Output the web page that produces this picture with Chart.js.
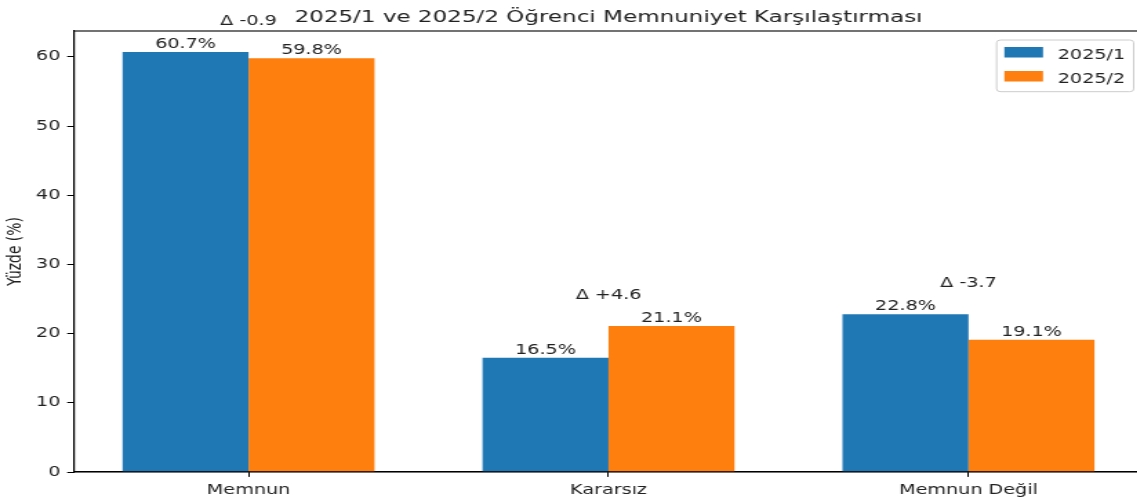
<!DOCTYPE html>
<html>
<head>
<meta charset="utf-8">
<script src="https://cdn.jsdelivr.net/npm/chart.js@4.4.1/dist/chart.umd.min.js"></script>
<style>
  html, body { margin: 0; padding: 0; overflow: hidden; background: #fff; }
  /* the reference is stretched horizontally, so the canvas is too */
  #wrap { width: 835px; height: 501px; transform: scaleX(1.38); transform-origin: 0 0; }
</style>
</head>
<body>
<div id="wrap"><canvas id="chart" width="835" height="501"></canvas></div>
<script>
const categories = ["Memnun", "Kararsız", "Memnun Değil"];
const seriesLabels = ["2025/1", "2025/2"];
const values2025_1 = [60.7, 16.5, 22.8];
const values2025_2 = [59.8, 21.1, 19.1];
const yTicks = [0, 10, 20, 30, 40, 50, 60];
const colors = ["#1f77b4", "#ff7f0e"];
const titleText = "2025/1 ve 2025/2 Öğrenci Memnuniyet Karşılaştırması";
const yTitle = "Yüzde (%)";

const FONT = "'DejaVu Sans', sans-serif";
const TEXT = "#222";
Chart.defaults.font.family = FONT;
Chart.defaults.color = TEXT;

const series = [values2025_1, values2025_2];
const yMax = Math.max(...values2025_1, ...values2025_2) * 1.05;

const annotate = {
  id: "annotate",
  afterDatasetsDraw(chart) {
    const { ctx, chartArea: a, scales: { x, y } } = chart;
    ctx.save();

    // full axes frame
    ctx.strokeStyle = "#000";
    ctx.lineWidth = 1.1;
    ctx.strokeRect(a.left, a.top, a.right - a.left, a.bottom - a.top);

    // value labels
    ctx.fillStyle = TEXT;
    ctx.font = "13.9px " + FONT;
    ctx.textAlign = "center";
    ctx.textBaseline = "alphabetic";
    chart.data.datasets.forEach((ds, di) => {
      chart.getDatasetMeta(di).data.forEach((bar, i) => {
        ctx.fillText(ds.data[i].y.toFixed(1) + "%", bar.x, bar.y - 4);
      });
    });

    // deltas above each group
    categories.forEach((c, i) => {
      const d = values2025_2[i] - values2025_1[i];
      const top = Math.max(values2025_1[i], values2025_2[i]);
      const txt = "Δ " + (d > 0 ? "+" : "") + d.toFixed(1);
      ctx.fillText(txt, x.getPixelForValue(i), y.getPixelForValue(top) - 27);
    });

    // title
    ctx.font = "16.7px " + FONT;
    ctx.fillText(titleText, (a.left + a.right) / 2, 22);

    // legend, upper right
    const lx = 722.2, ly = 40, lw = 99.3, lh = 51.7;
    ctx.beginPath();
    ctx.roundRect(lx, ly, lw, lh, 2.8);
    ctx.fillStyle = "rgba(255,255,255,0.8)";
    ctx.fill();
    ctx.strokeStyle = "#cccccc";
    ctx.lineWidth = 1;
    ctx.stroke();
    ctx.font = "13.9px " + FONT;
    ctx.textAlign = "left";
    chart.data.datasets.forEach((ds, di) => {
      const ry = 47 + di * 24;
      ctx.fillStyle = ds.backgroundColor;
      ctx.fillRect(727.8, ry, 28, 10.5);
      ctx.fillStyle = TEXT;
      ctx.fillText(ds.label, 766.5, ry + 12);
    });

    ctx.restore();
  }
};

new Chart(document.getElementById("chart"), {
  type: "bar",
  data: {
    datasets: seriesLabels.map((label, k) => ({
      label,
      data: series[k].map((v, i) => ({ x: i, y: v })),
      backgroundColor: colors[k],
      borderWidth: 0,
      barPercentage: 1,
      categoryPercentage: 0.7,
    })),
  },
  options: {
    responsive: false,
    animation: false,
    devicePixelRatio: 1,
    layout: { padding: { top: 31, right: 6.7, left: 0, bottom: 0 } },
    plugins: {
      legend: { display: false },
      tooltip: { enabled: false },
      title: { display: false },
    },
    scales: {
      x: {
        type: "linear",
        min: -0.485,
        max: 2.485,
        offset: false,
        afterBuildTicks: (s) => { s.ticks = categories.map((c, i) => ({ value: i })); },
        afterFit: (s) => { s.height = 29; },
        ticks: {
          callback: (v) => categories[v],
          font: { size: 13.9 },
          color: TEXT,
          padding: 5,
          maxRotation: 0,
        },
        grid: { offset: false, drawOnChartArea: false, tickLength: 4.9, color: "#000", lineWidth: 1 },
        border: { display: true, color: "#000", width: 1.1 },
      },
      y: {
        min: 0,
        max: yMax,
        afterBuildTicks: (s) => { s.ticks = yTicks.map((v) => ({ value: v })); },
        afterFit: (s) => { s.width = 53.6; },
        ticks: { font: { size: 13.9 }, color: TEXT, padding: 4.9 },
        grid: { drawOnChartArea: false, tickLength: 4.9, color: "#000", lineWidth: 1 },
        border: { display: true, color: "#000", width: 1.1 },
        title: {
          display: true,
          text: yTitle,
          font: { size: 13.9 },
          color: TEXT,
          padding: { top: 3.3, bottom: 0 },
        },
      },
    },
  },
  plugins: [annotate],
});
</script>
</body>
</html>
